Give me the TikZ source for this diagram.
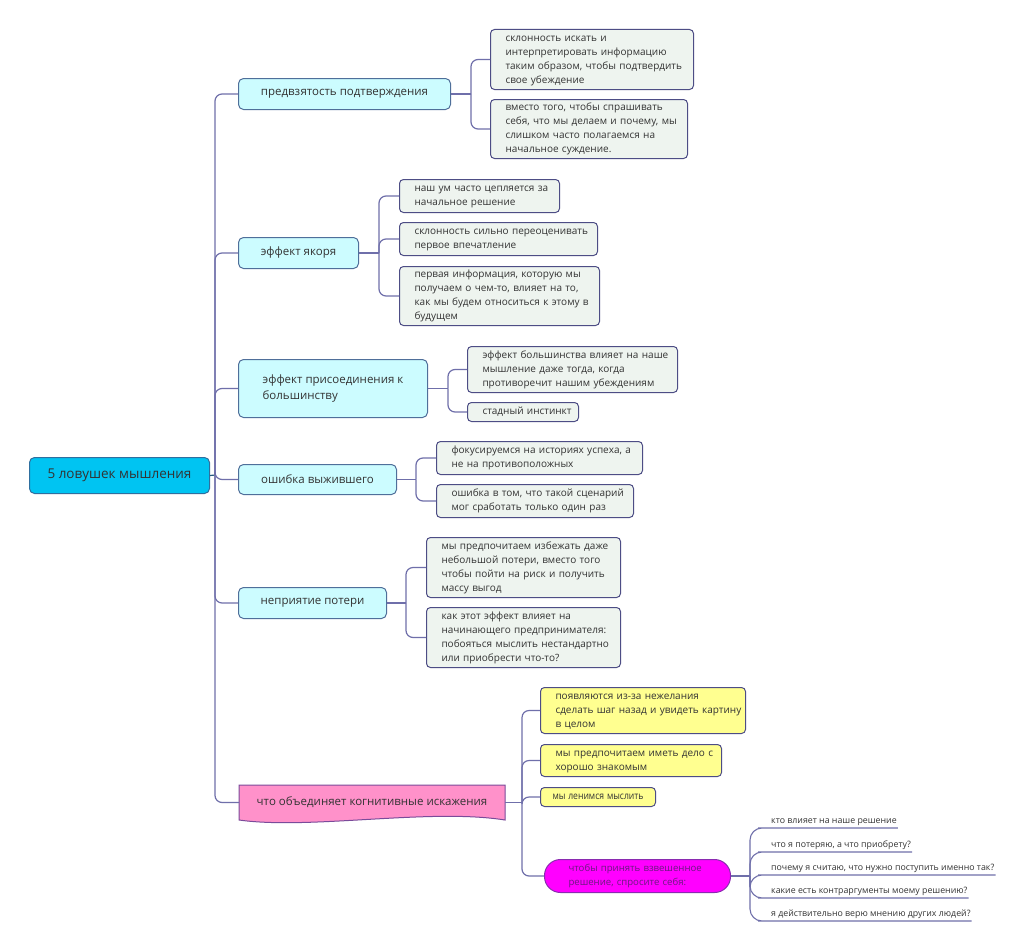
\documentclass[tikz,border=0pt]{standalone}
\usepackage{fontspec}
\setmainfont{Open Sans}
\usetikzlibrary{backgrounds}
\definecolor{rootf}{HTML}{00C4F2}
\definecolor{rootb}{HTML}{2F6F9F}
\definecolor{mainf}{HTML}{CCFCFF}
\definecolor{mainb}{HTML}{4F6F9A}
\definecolor{childf}{HTML}{EEF4EF}
\definecolor{childb}{HTML}{4D4D85}
\definecolor{yelf}{HTML}{FFFF90}
\definecolor{magf}{HTML}{FF00FF}
\definecolor{magb}{HTML}{8A2BB0}
\definecolor{magt}{HTML}{6B1A80}
\definecolor{pinkf}{HTML}{FF91CA}
\definecolor{pinkb}{HTML}{7A4B9A}
\definecolor{linkc}{HTML}{6F6FAA}
\definecolor{textc}{HTML}{333333}
\newcommand{\mylines}[1]{\begin{tabular}{@{}l@{}}#1\end{tabular}}
\begin{document}
\begin{tikzpicture}[x=1pt,y=-1pt,
  rootbox/.style={draw=rootb, fill=rootf, rounded corners=5pt, line width=1pt,
    font=\fontsize{13.5}{16}\selectfont, text=textc, anchor=north west, inner sep=0pt},
  mainbox/.style={draw=mainb, fill=mainf, rounded corners=5pt, line width=1pt,
    font=\fontsize{11.5}{16}\selectfont, text=textc, anchor=north west, inner sep=0pt, align=center},
  childbox/.style={draw=childb, fill=childf, rounded corners=4pt, line width=1pt,
    font=\fontsize{10}{14}\selectfont, text=textc, anchor=north west, inner xsep=15pt, inner ysep=0pt, align=left},
  yelbox/.style={childbox, fill=yelf},
  questtext/.style={font=\fontsize{8.8}{12}\selectfont, text=textc, anchor=south west, inner xsep=1pt, inner ysep=2pt},
  link/.style={draw=linkc, line width=1.2pt, rounded corners=7pt},
  qlink/.style={draw=linkc, line width=1.1pt, rounded corners=12pt}
]
\useasboundingbox (0,0) rectangle (1024,950);

% root
\node[rootbox, minimum width=180pt, minimum height=36pt] (root) at (29,457) {5 ловушек мышления};

% main topics
\node[mainbox, minimum width=212pt, minimum height=31pt] (m1) at (238,78) {предвзятость подтверждения};
\node[mainbox, minimum width=120pt, minimum height=31pt] (m2) at (238,237) {эффект якоря};
\node[mainbox, minimum width=189pt, minimum height=58pt, align=left] (m3) at (238,359) {эффект присоединения к\\большинству};
\node[mainbox, minimum width=158pt, minimum height=30pt] (m4) at (238,464) {ошибка выжившего};
\node[mainbox, minimum width=148pt, minimum height=31pt] (m5) at (238,587) {неприятие потери};
\node[mainbox, draw=none, fill=none, minimum width=265pt, minimum height=34pt] (m6) at (239,785) {что объединяет когнитивные искажения};
\begin{pgfonlayer}{background}
\fill[white] (0,0) rectangle (1024,950);
\draw[draw=pinkb, fill=pinkf, line width=1pt] (m6.north west) -- (m6.north east) -- (m6.south east)
  .. controls (430,808) and (310,830) .. (m6.south west) -- cycle;
\end{pgfonlayer}

% children
\node[childbox, minimum width=203pt, minimum height=60pt, text width=173pt] (c1a) at (490,29)
  {\mylines{склонность искать и\\интерпретировать информацию\\таким образом, чтобы подтвердить\\свое убеждение}};
\node[childbox, minimum width=197pt, minimum height=59pt, text width=167pt] (c1b) at (490,99)
  {\mylines{вместо того, чтобы спрашивать\\себя, что мы делаем и почему, мы\\слишком часто полагаемся на\\начальное суждение.}};

\node[childbox, minimum width=160pt, minimum height=33pt, text width=130pt] (c2a) at (399,179)
  {\mylines{наш ум часто цепляется за\\начальное решение}};
\node[childbox, minimum width=198pt, minimum height=33pt, text width=168pt] (c2b) at (399,222)
  {\mylines{склонность сильно переоценивать\\первое впечатление}};
\node[childbox, minimum width=200pt, minimum height=59pt, text width=170pt] (c2c) at (399,266)
  {\mylines{первая информация, которую мы\\получаем о чем-то, влияет на то,\\как мы будем относиться к этому в\\будущем}};

\node[childbox, minimum width=210pt, minimum height=46pt, text width=180pt] (c3a) at (467,346)
  {\mylines{эффект большинства влияет на наше\\мышление даже тогда, когда\\противоречит нашим убеждениям}};
\node[childbox, minimum width=111pt, minimum height=19pt, text width=81pt] (c3b) at (467,402)
  {\mylines{стадный инстинкт}};

\node[childbox, minimum width=206pt, minimum height=33pt, text width=176pt] (c4a) at (436,441)
  {\mylines{фокусируемся на историях успеха, а\\не на противоположных}};
\node[childbox, minimum width=197pt, minimum height=33pt, text width=167pt] (c4b) at (436,484)
  {\mylines{ошибка в том, что такой сценарий\\мог сработать только один раз}};

\node[childbox, minimum width=194pt, minimum height=60pt, text width=164pt] (c5a) at (426,537)
  {\mylines{мы предпочитаем избежать даже\\небольшой потери, вместо того\\чтобы пойти на риск и получить\\массу выгод}};
\node[childbox, minimum width=194pt, minimum height=60pt, text width=164pt] (c5b) at (426,607)
  {\mylines{как этот эффект влияет на\\начинающего предпринимателя:\\побояться мыслить нестандартно\\или приобрести что-то?}};

\node[yelbox, minimum width=205pt, minimum height=46pt, text width=175pt] (c6a) at (540,687)
  {\mylines{появляются из-за нежелания\\сделать шаг назад и увидеть картину\\в целом}};
\node[yelbox, minimum width=181pt, minimum height=32pt, text width=151pt] (c6b) at (540,744)
  {\mylines{мы предпочитаем иметь дело с\\хорошо знакомым}};
\node[yelbox, inner xsep=12pt, minimum width=115pt, minimum height=19pt, text width=91pt] (c6c) at (540,787)
  {\scalebox{0.86}[1]{\mylines{мы ленимся мыслить}}};
\node[childbox, draw=magb, fill=magf, text=magt, rounded corners=16pt, inner xsep=24pt,
  font=\fontsize{9.6}{14}\selectfont,
  minimum width=186pt, minimum height=33pt, text width=138pt] (c6d) at (544,859)
  {\mylines{чтобы принять взвешенное\\решение, спросите себя:}};

% questions
\node[questtext] (q1) at (770,828) {кто влияет на наше решение};
\node[questtext] (q2) at (770,852) {что я потеряю, а что приобрету?};
\node[questtext] (q3) at (770,875) {почему я считаю, что нужно поступить именно так?};
\node[questtext] (q4) at (770,898) {какие есть контраргументы моему решению?};
\node[questtext] (q5) at (770,921) {я действительно верю мнению других людей?};

% trunk
\coordinate (jr) at (215,475);
\draw[link, draw=rootb!80!black] (root.east) -- (jr);
\foreach \m in {m1,m2,m3,m4,m5,m6} { \draw[link] (jr) |- (\m.west); }

% branches
\path (m1.east) ++(20,0) coordinate (j1);
\draw[link] (m1.east) -- (j1);
\foreach \c in {c1a,c1b} { \draw[link] (j1) |- (\c.west); }

\path (m2.east) ++(20,0) coordinate (j2);
\draw[link] (m2.east) -- (j2);
\foreach \c in {c2a,c2b,c2c} { \draw[link] (j2) |- (\c.west); }

\path (m3.east) ++(20,0) coordinate (j3);
\draw[link] (m3.east) -- (j3);
\foreach \c in {c3a,c3b} { \draw[link] (j3) |- (\c.west); }

\path (m4.east) ++(19,0) coordinate (j4);
\draw[link] (m4.east) -- (j4);
\foreach \c in {c4a,c4b} { \draw[link] (j4) |- (\c.west); }

\path (m5.east) ++(19,0) coordinate (j5);
\draw[link] (m5.east) -- (j5);
\foreach \c in {c5a,c5b} { \draw[link] (j5) |- (\c.west); }

\path (m6.east) ++(17,0) coordinate (j6);
\draw[link] (m6.east) -- (j6);
\foreach \c in {c6a,c6b,c6c,c6d} { \draw[link] (j6) |- (\c.west); }

\path (c6d.east) ++(19,0) coordinate (j7);
\draw[link] (c6d.east) -- (j7);
\foreach \q in {q1,q2,q3,q4,q5} { \draw[qlink] (j7) |- (\q.south west) -- (\q.south east); }
\end{tikzpicture}
\end{document}
